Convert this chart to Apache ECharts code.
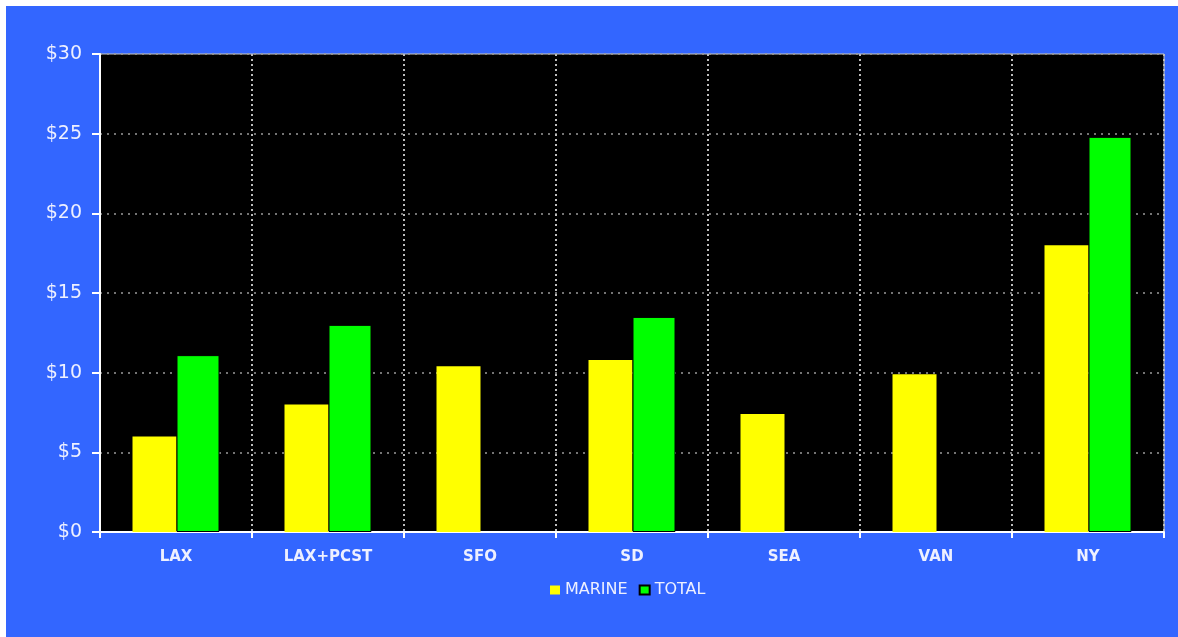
<!DOCTYPE html>
<html>
<head>
<meta charset="utf-8">
<script src="https://cdn.jsdelivr.net/npm/echarts@6/dist/echarts.min.js"></script>
<style>
  html, body { margin: 0; padding: 0; background: #ffffff; width: 1178px; height: 637px; overflow: hidden; }
  #c { position: absolute; left: 6px; top: 6px; width: 1172px; height: 631px; }
</style>
</head>
<body>
<div id="c"></div>
<script>
const categories = ['LAX', 'LAX+PCST', 'SFO', 'SD', 'SEA', 'VAN', 'NY'];
const marine = [6.0, 8.0, 10.4, 10.8, 7.4, 9.9, 18.0];
const total = [11.1, 13.0, null, 13.5, null, null, 24.8];
const yTicks = [0, 5, 10, 15, 20, 25, 30];

const chart = echarts.init(document.getElementById('c'), null, { renderer: 'canvas' });
chart.setOption({
  backgroundColor: '#3366ff',
  animation: false,
  grid: {
    left: 94, top: 48, width: 1064, height: 478,
    show: true, backgroundColor: '#000000', borderColor: '#c8c8c8', borderWidth: 1
  },
  legend: {
    left: 539, top: 571,
    itemWidth: 10, itemHeight: 9, itemGap: 11,
    icon: 'rect',
    textStyle: { color: '#eef0ff', fontFamily: 'DejaVu Sans', fontSize: 16 },
    data: ['MARINE', 'TOTAL']
  },
  xAxis: {
    type: 'category',
    data: categories,
    axisLine: { lineStyle: { color: '#ffffff', width: 2 } },
    axisTick: { show: true, length: 6, lineStyle: { color: '#ffffff', width: 2 } },
    axisLabel: { color: '#eef0ff', fontFamily: 'DejaVu Sans', fontWeight: 'bold', fontSize: 15, margin: 18 },
    splitLine: { show: true, lineStyle: { color: '#bbbbbb', type: [2, 3], width: 2 } }
  },
  yAxis: {
    type: 'value',
    min: yTicks[0], max: yTicks[yTicks.length - 1], interval: 5,
    axisLine: { show: true, lineStyle: { color: '#ffffff', width: 2 } },
    axisTick: { show: true, length: 8, lineStyle: { color: '#ffffff', width: 2 } },
    axisLabel: { color: '#eef0ff', fontFamily: 'DejaVu Sans', fontSize: 19, margin: 18,
      formatter: function (v) { return '$' + v; } },
    splitLine: { show: true, lineStyle: { color: '#9a9a9a', type: [2, 5], width: 1.5 } }
  },
  series: [
    { name: 'MARINE', type: 'bar', data: marine, barWidth: 44, barGap: '0%',
      itemStyle: { color: '#ffff00' } },
    { name: 'TOTAL', type: 'bar', data: total, barWidth: 43, barGap: '0%',
      itemStyle: { color: '#00ff00', borderColor: '#000000', borderWidth: 1 } }
  ]
});
</script>
</body>
</html>
